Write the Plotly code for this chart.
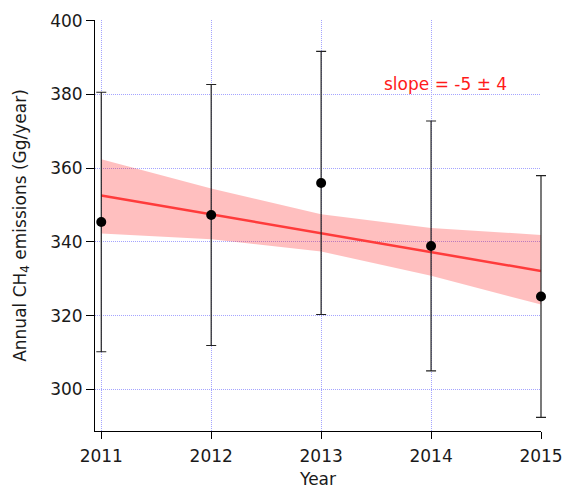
import plotly.graph_objects as go

# Data
years = [2011, 2012, 2013, 2014, 2015]
emissions = [345.4, 347.3, 356.0, 338.9, 325.2]
errors = [35.2, 35.4, 35.7, 33.9, 32.8]
fit_line = [352.6, 347.5, 342.4, 337.2, 332.1]
band_upper = [362.4, 354.5, 347.5, 343.8, 341.9]
band_lower = [342.3, 340.7, 337.4, 330.8, 323.0]
y_ticks = [300, 320, 340, 360, 380, 400]
x_ticks = [2011, 2012, 2013, 2014, 2015]
slope_text = "slope = -5 ± 4"

FONT = "DejaVu Sans"
TXT = "#1a1a1a"
GRID = "#a4a4ff"

W, H = 566, 489
ML, MR, MT, MB = 95, 15, 20, 58
X_RANGE = [2010.943, 2015.0]
Y_RANGE = [288.7, 400.2]
plot_w = W - ML - MR
main_w = 446  # pixel width of the main (visible-grid) plot area
d1 = main_w / plot_w
x2_end = X_RANGE[0] + (X_RANGE[1] - X_RANGE[0]) / d1

fig = go.Figure()

# confidence band
fig.add_trace(go.Scatter(
    x=years + years[::-1],
    y=band_upper + band_lower[::-1],
    fill="toself", fillcolor="rgba(255,0,0,0.25)",
    line=dict(width=0), mode="lines", hoverinfo="skip", showlegend=False,
))
# fit line
fig.add_trace(go.Scatter(
    x=years, y=fit_line, mode="lines",
    line=dict(color="#ff3b3b", width=2.5), showlegend=False,
))
# data with error bars (on a slightly wider overlay subplot so caps are not clipped)
fig.add_trace(go.Scatter(
    x=years, y=emissions, mode="markers", xaxis="x2", yaxis="y2",
    marker=dict(color="black", size=10),
    error_y=dict(type="data", array=errors, visible=True,
                 color="#222222", thickness=1.2, width=5),
    cliponaxis=False, showlegend=False,
))

fig.add_annotation(
    x=2014.13, y=382.8, xref="x", yref="y", text=slope_text, showarrow=False,
    font=dict(family=FONT, size=17, color="#ff1a1a"),
)

fig.update_layout(
    width=W, height=H,
    margin=dict(l=ML, r=MR, t=MT, b=MB, autoexpand=False),
    paper_bgcolor="white", plot_bgcolor="rgba(0,0,0,0)",
    font=dict(family=FONT, size=17, color=TXT),
    showlegend=False,
    xaxis=dict(
        domain=[0, d1], range=X_RANGE, tickvals=x_ticks,
        ticktext=[str(v) for v in x_ticks],
        showline=True, linecolor="black", linewidth=1, mirror=False,
        ticks="outside", ticklen=7, tickcolor="black", tickwidth=1,
        showgrid=True, gridcolor=GRID, griddash="1px,1px", gridwidth=1,
        zeroline=False, tickfont=dict(size=17), ticklabelstandoff=3,
        title=dict(text="Year", font=dict(size=17), standoff=8),
    ),
    yaxis=dict(
        range=Y_RANGE, tickvals=y_ticks,
        showline=True, linecolor="black", linewidth=1, mirror=False,
        ticks="outside", ticklen=8, tickcolor="black", tickwidth=1,
        showgrid=True, gridcolor=GRID, griddash="1px,1px", gridwidth=1,
        zeroline=False, tickfont=dict(size=17),
        title=dict(text="Annual CH<sub>4</sub> emissions (Gg/year)",
                   font=dict(size=17), standoff=19),
    ),
    xaxis2=dict(domain=[0, 1], range=[X_RANGE[0], x2_end], anchor="y2",
                visible=False, showgrid=False, zeroline=False),
    yaxis2=dict(range=Y_RANGE, anchor="x2", visible=False,
                showgrid=False, zeroline=False),
)

fig.write_html("out.html", config={"displayModeBar": False},
               post_script="document.body.style.margin='0';document.body.style.padding='0';")
